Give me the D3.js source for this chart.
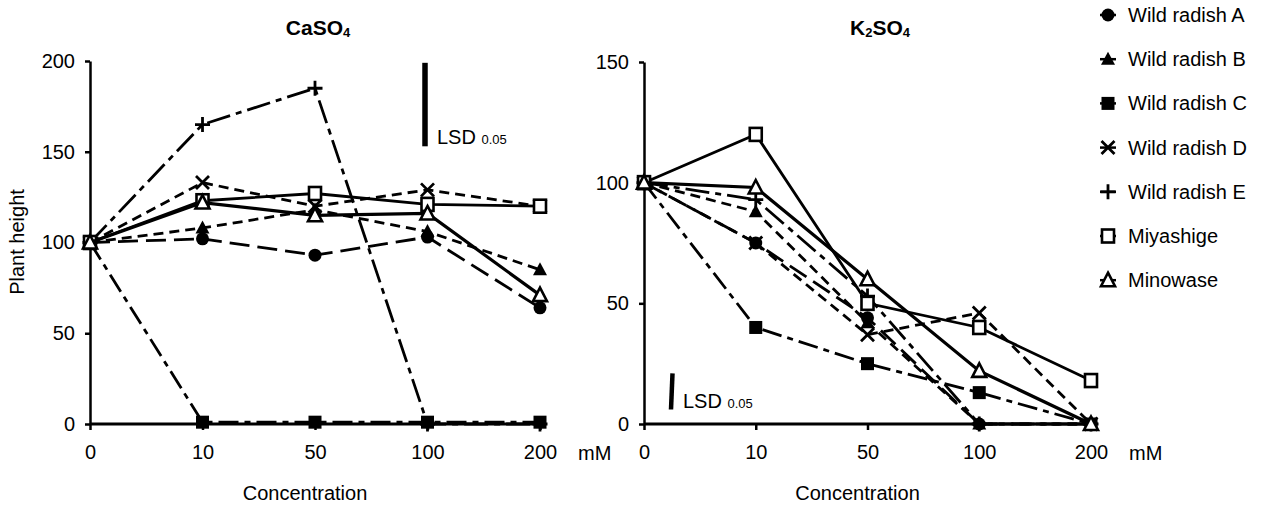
<!DOCTYPE html>
<html>
<head>
<meta charset="utf-8">
<script src="https://cdn.jsdelivr.net/npm/d3@7"></script>
<style>
  body { margin: 0; background: #fff; }
  svg text { font-family: "Liberation Sans", Arial, sans-serif; fill: #000; }
</style>
</head>
<body>
<svg id="chart" width="1273" height="508"></svg>
<script>
// concentrations (mM) on the x axis
var concentrations = ['0', '10', '50', '100', '200'];
var seriesNames = ['Wild radish A', 'Wild radish B', 'Wild radish C', 'Wild radish D',
    'Wild radish E', 'Miyashige', 'Minowase'];

// plant height, one row per series, same order as seriesNames
var caso4Heights = [
    [100, 102, 93, 103, 64],
    [100, 108, 118, 106, 85],
    [100, 1, 1, 1, 1],
    [100, 133, 120, 129, 120],
    [100, 165, 185, 0, 0],
    [100, 123, 127, 121, 120],
    [100, 122, 115, 116, 71]
];
var k2so4Heights = [
    [100, 75, 44, 0, 0],
    [100, 88, 42, 0, 0],
    [100, 40, 25, 13, 0],
    [100, 75, 37, 46, 0],
    [100, 93, 53, 0, 0],
    [100, 120, 50, 40, 18],
    [100, 98, 60, 22, 0]
];
var caso4Ticks = [0, 50, 100, 150, 200];
var k2so4Ticks = [0, 50, 100, 150];
// LSD bar ends (plant height units)
var caso4Lsd = [153, 199];
var k2so4Lsd = [6, 21];

(function () {
    var markers = ['circle', 'triangle', 'square', 'cross', 'plus', 'openSquare', 'openTriangle'];
    var dashes = ['20,8', '10,6', '20,6,6,6', '10,6', '24,6,6,6', null, null];
    var widths = [2.8, 2.8, 2.8, 2.8, 2.8, 2.8, 3.2];

    var svg = d3.select('#chart');

    function drawMarker(g, type) {
        if (type === 'circle') {
            g.append('circle').attr('r', 6.5).attr('fill', '#000');
        } else if (type === 'triangle') {
            g.append('path').attr('d', 'M0,-7.5L7,5.5L-7,5.5Z').attr('fill', '#000');
        } else if (type === 'square') {
            g.append('rect').attr('x', -6.5).attr('y', -6.5).attr('width', 13).attr('height', 13).attr('fill', '#000');
        } else if (type === 'cross') {
            g.append('path').attr('d', 'M-6.5,-6.5L6.5,6.5M-6.5,6.5L6.5,-6.5')
                .attr('stroke', '#000').attr('stroke-width', 2.8).attr('fill', 'none');
        } else if (type === 'plus') {
            g.append('path').attr('d', 'M-7.5,0L7.5,0M0,-7.5L0,7.5')
                .attr('stroke', '#000').attr('stroke-width', 2.8).attr('fill', 'none');
        } else if (type === 'openSquare') {
            g.append('rect').attr('x', -6).attr('y', -6.5).attr('width', 12).attr('height', 13)
                .attr('fill', '#fff').attr('stroke', '#000').attr('stroke-width', 2.6);
        } else if (type === 'openTriangle') {
            g.append('path').attr('d', 'M0,-7.5L7,6L-7,6Z')
                .attr('fill', '#fff').attr('stroke', '#000').attr('stroke-width', 2.6)
                .attr('stroke-linejoin', 'miter');
        }
    }

    function panel(opts) {
        var x = d3.scalePoint().domain(concentrations).range([opts.left, opts.right]);
        var y = d3.scaleLinear().domain([0, opts.max]).range([424, opts.top]);
        var g = svg.append('g');

        // y axis
        var ya = g.append('g')
            .attr('transform', 'translate(' + opts.left + ',0)')
            .call(d3.axisLeft(y).tickValues(opts.ticks).tickSize(5).tickSizeOuter(0).tickPadding(10));
        ya.select('.domain').attr('stroke-width', 2.5);
        ya.selectAll('.tick line').attr('stroke-width', 2.5);
        ya.selectAll('.tick text').attr('font-size', 20).attr('font-family', null);

        // x axis
        var xa = g.append('g')
            .attr('transform', 'translate(0,424)')
            .call(d3.axisBottom(x).tickSize(6).tickSizeOuter(0).tickPadding(15));
        xa.select('.domain').attr('stroke-width', 3)
            .attr('d', 'M' + opts.left + ',0H' + (opts.right + 6));
        xa.selectAll('.tick line').attr('stroke-width', 2.5);
        xa.selectAll('.tick text').attr('font-size', 20).attr('font-family', null);

        g.append('text').attr('x', opts.right + 38).attr('y', 460)
            .attr('font-size', 20).text('mM');

        g.append('text').attr('x', (opts.left + opts.right) / 2 - 10).attr('y', 500)
            .attr('text-anchor', 'middle').attr('font-size', 20).text('Concentration');

        // title with subscripts
        var t = g.append('text').attr('x', opts.titleX).attr('y', 37)
            .attr('text-anchor', 'middle').attr('font-size', 21).attr('font-weight', 'bold');
        opts.title.forEach(function (p) {
            t.append('tspan').attr('font-size', p[1] ? 13 : 21)
                .attr('dy', p[1] ? 2 : -2).text(p[0]);
        });

        // LSD bar
        var lx = opts.lsdX;
        g.append('line')
            .attr('x1', lx + opts.lsdTilt).attr('x2', lx)
            .attr('y1', y(opts.lsd[1])).attr('y2', y(opts.lsd[0]))
            .attr('stroke', '#000').attr('stroke-width', opts.lsdW);
        var lt = g.append('text').attr('x', lx + 12).attr('y', y(opts.lsd[0]) - 2).attr('font-size', 20);
        lt.append('tspan').text('LSD ');
        lt.append('tspan').attr('font-size', 13).text('0.05');

        var line = d3.line()
            .x(function (d, i) { return x(concentrations[i]); })
            .y(function (d) { return y(d); });

        opts.data.forEach(function (vals, s) {
            g.append('path')
                .attr('d', line(vals))
                .attr('fill', 'none')
                .attr('stroke', '#000')
                .attr('stroke-width', widths[s])
                .attr('stroke-dasharray', dashes[s]);
            vals.forEach(function (v, i) {
                var m = g.append('g').attr('transform', 'translate(' + x(concentrations[i]) + ',' + y(v) + ')');
                drawMarker(m, markers[s]);
            });
        });
    }

    panel({
        left: 90, right: 540, top: 61, max: 200, ticks: caso4Ticks, data: caso4Heights,
        title: [['CaSO', false], ['4', true]], titleX: 318,
        lsd: caso4Lsd, lsdX: 425, lsdTilt: 0, lsdW: 5.5
    });
    panel({
        left: 644, right: 1091, top: 62, max: 150, ticks: k2so4Ticks, data: k2so4Heights,
        title: [['K', false], ['2', true], ['SO', false], ['4', true]], titleX: 880,
        lsd: k2so4Lsd, lsdX: 671, lsdTilt: 1.5, lsdW: 4.5
    });

    svg.append('text')
        .attr('transform', 'translate(24,242) rotate(-90)')
        .attr('text-anchor', 'middle').attr('font-size', 20).text('Plant height');

    // legend
    var leg = svg.append('g');
    seriesNames.forEach(function (name, s) {
        var cy = 15 + s * 44.2;
        leg.append('line').attr('x1', 1100).attr('x2', 1116).attr('y1', cy).attr('y2', cy)
            .attr('stroke', '#000').attr('stroke-width', 2.5);
        var m = leg.append('g').attr('transform', 'translate(1108,' + cy + ')');
        drawMarker(m, markers[s]);
        leg.append('text').attr('x', 1128).attr('y', cy).attr('dy', '0.35em')
            .attr('font-size', 20).text(name);
    });
})();
</script>
</body>
</html>
